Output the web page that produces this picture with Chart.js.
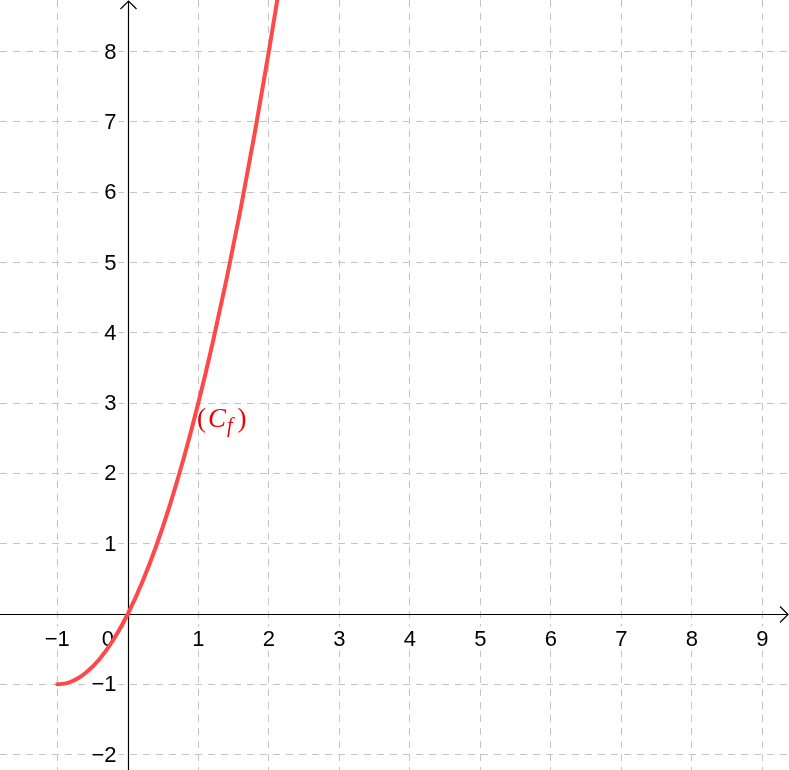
<!DOCTYPE html>
<html>
<head>
<meta charset="utf-8">
<script src="https://cdn.jsdelivr.net/npm/chart.js@4/dist/chart.umd.min.js"></script>
<style>
  html, body { margin: 0; padding: 0; background: #fff; }
  #wrap { width: 789px; height: 770px; }
</style>
</head>
<body>
<div id="wrap"><canvas id="grafico"></canvas></div>
<script>
// puntos (Cf)
const puntosX = [-1, -0.9, -0.8, -0.7, -0.6, -0.4, -0.2, 0, 0.2, 0.4, 0.6, 0.8, 1, 1.2, 1.4, 1.6, 1.8, 2, 2.1, 2.2];
const puntosY = [-1, -0.99, -0.96, -0.91, -0.84, -0.64, -0.36, 0, 0.44, 0.96, 1.56, 2.24, 3, 3.84, 4.76, 5.76, 6.84, 8, 8.61, 9.24];

// marcas de los ejes
const marcasX = [-1, 0, 1, 2, 3, 4, 5, 6, 7, 8, 9];
const marcasY = [-2, -1, 1, 2, 3, 4, 5, 6, 7, 8];

// ventana visible
const rangoX = [-1.813, 9.379];
const rangoY = [-2.219, 8.734];

const nombreCurva = ['(', 'C', 'f', ')'];

const fuenteEjes = '22px "Liberation Sans", Arial, sans-serif';
const rojoCurva = 'rgb(255, 72, 72)';

function textoNumero(v) {
  return v < 0 ? '\u2212' + Math.abs(v) : String(v);
}

// dibuja una etiqueta con fondo blanco
function etiqueta(ctx, txt, x, y, align) {
  ctx.font = fuenteEjes;
  const w = ctx.measureText(txt).width;
  let x0 = x;
  if (align === 'center') x0 = x - w / 2;
  if (align === 'right') x0 = x - w;
  ctx.fillStyle = '#fff';
  ctx.fillRect(x0 - 2, y - 12, w + 4, 24);
  ctx.fillStyle = '#000';
  ctx.textAlign = 'left';
  ctx.textBaseline = 'middle';
  ctx.fillText(txt, x0, y + 1);
}

const ejesPlugin = {
  id: 'ejes',
  beforeDatasetsDraw(chart) {
    const ctx = chart.ctx;
    const sx = chart.scales.x, sy = chart.scales.y;
    const ox = Math.round(sx.getPixelForValue(0)) + 0.5;
    const oy = Math.round(sy.getPixelForValue(0)) + 0.5;
    const area = chart.chartArea;
    ctx.save();
    ctx.strokeStyle = '#000';
    ctx.lineWidth = 1.2;
    ctx.beginPath();
    ctx.moveTo(area.left, oy);
    ctx.lineTo(area.right - 1, oy);
    ctx.moveTo(ox, area.bottom);
    ctx.lineTo(ox, area.top + 1);
    ctx.stroke();
    // flechas
    ctx.beginPath();
    ctx.moveTo(area.right - 9, oy - 8);
    ctx.lineTo(area.right - 1, oy);
    ctx.lineTo(area.right - 9, oy + 8);
    ctx.moveTo(ox - 8, area.top + 9);
    ctx.lineTo(ox, area.top + 1);
    ctx.lineTo(ox + 8, area.top + 9);
    ctx.stroke();

    marcasX.forEach(v => {
      const px = sx.getPixelForValue(v);
      if (v === 0) etiqueta(ctx, '0', px - 20, oy + 24, 'center');
      else etiqueta(ctx, textoNumero(v), px, oy + 24, 'center');
    });
    marcasY.forEach(v => {
      const py = sy.getPixelForValue(v);
      etiqueta(ctx, textoNumero(v), ox - 12, py, 'right');
    });
    ctx.restore();
  },
  afterDatasetsDraw(chart, args, opts) {
    const ctx = chart.ctx;
    const sx = chart.scales.x, sy = chart.scales.y;
    let x = sx.getPixelForValue(opts.x);
    const y = sy.getPixelForValue(opts.y);
    ctx.save();
    ctx.fillStyle = '#ee0000';
    ctx.textBaseline = 'alphabetic';
    ctx.textAlign = 'left';
    const partes = [
      { t: nombreCurva[0], f: '27px "Liberation Serif", serif', dy: 0, sep: 2 },
      { t: nombreCurva[1], f: 'italic 27px "Liberation Serif", serif', dy: 0, sep: 1 },
      { t: nombreCurva[2], f: 'italic 20px "Liberation Serif", serif', dy: 5, sep: 5 },
      { t: nombreCurva[3], f: '27px "Liberation Serif", serif', dy: 0, sep: 0 }
    ];
    partes.forEach(p => {
      ctx.font = p.f;
      ctx.fillText(p.t, x, y + p.dy);
      x += ctx.measureText(p.t).width + p.sep;
    });
    ctx.restore();
  }
};

const datos = puntosX.map((x, i) => ({ x: x, y: puntosY[i] }));

function ejeLineal(rango, marcas) {
  return {
    type: 'linear',
    min: rango[0],
    max: rango[1],
    afterBuildTicks: s => { s.ticks = marcas.filter(v => v !== 0).map(v => ({ value: v })); },
    ticks: { display: false },
    grid: { color: '#c4c4c4', lineWidth: 1, drawTicks: false },
    border: { display: false, dash: [7, 6] }
  };
}

new Chart(document.getElementById('grafico'), {
  type: 'scatter',
  data: {
    datasets: [{
      data: datos,
      showLine: true,
      borderColor: rojoCurva,
      borderWidth: 4,
      borderCapStyle: 'round',
      cubicInterpolationMode: 'monotone',
      pointRadius: 0,
      pointHoverRadius: 0
    }]
  },
  options: {
    responsive: true,
    maintainAspectRatio: false,
    animation: false,
    layout: { padding: 0 },
    plugins: {
      legend: { display: false },
      tooltip: { enabled: false },
      ejes: { x: 0.98, y: 2.66 }
    },
    scales: {
      x: ejeLineal(rangoX, marcasX),
      y: ejeLineal(rangoY, marcasY)
    }
  },
  plugins: [ejesPlugin]
});
</script>
</body>
</html>
